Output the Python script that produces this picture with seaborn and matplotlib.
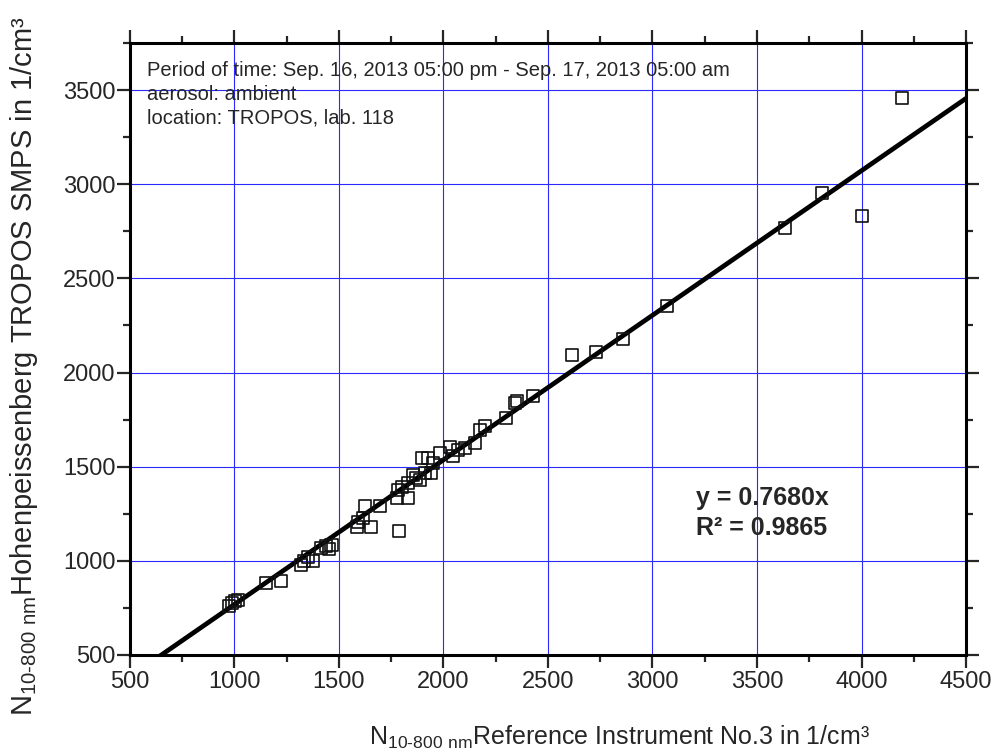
import numpy as np
import pandas as pd
import matplotlib
matplotlib.use("Agg")
import matplotlib.pyplot as plt
from matplotlib.ticker import MultipleLocator
import seaborn as sns

# reference instrument counts (x) vs Hohenpeissenberg SMPS counts (y)
ref_counts = [975, 990, 1005, 1020, 1150, 1225, 1318, 1335, 1353, 1377,
              1417, 1440, 1455, 1465, 1585, 1592, 1616, 1624, 1656, 1696,
              1790, 1776, 1784, 1800, 1832, 1832, 1856, 1870, 1887, 1911,
              1943, 1900, 1927, 1950, 1983, 2031, 2047, 2070, 2103, 2151,
              2175, 2199, 2299, 2342, 2353, 2427, 2613, 2730, 2857, 3071,
              3634, 3811, 4002, 4193]
smps_counts = [760, 775, 785, 790, 880, 893, 978, 1000, 1022, 1001,
               1067, 1080, 1065, 1084, 1181, 1208, 1226, 1291, 1178, 1291,
               1158, 1332, 1376, 1390, 1332, 1412, 1456, 1440, 1429, 1465,
               1465, 1548, 1548, 1520, 1571, 1606, 1557, 1590, 1598, 1625,
               1695, 1716, 1760, 1837, 1851, 1877, 2093, 2111, 2178, 2353,
               2768, 2953, 2831, 3458]

fit_slope = 0.7680
fit_r2 = 0.9865
fit_x = [500, 4500]

x_ticks = [500, 1000, 1500, 2000, 2500, 3000, 3500, 4000, 4500]
y_ticks = [500, 1000, 1500, 2000, 2500, 3000, 3500]

info_lines = ["Period of time: Sep. 16, 2013 05:00 pm - Sep. 17, 2013 05:00 am",
              "aerosol: ambient",
              "location: TROPOS, lab. 118"]

df = pd.DataFrame({"ref": ref_counts, "smps": smps_counts})
fit_df = pd.DataFrame({"x": fit_x, "y": [fit_slope * v for v in fit_x]})

sns.set_style("white")
plt.rcParams["font.family"] = ["Liberation Sans", "DejaVu Sans"]
plt.rcParams["mathtext.fontset"] = "custom"
plt.rcParams["mathtext.rm"] = "Liberation Sans"

fig = plt.figure(figsize=(9.98, 7.56), dpi=100)
ax = fig.add_axes([0.130, 0.1336, 0.838, 0.8095])

ax.grid(True, which="major", color="#2a2aff", linewidth=0.8)
ax.set_axisbelow(True)

sns.lineplot(data=fit_df, x="x", y="y", ax=ax, color="black", linewidth=3.4, zorder=2)
sns.scatterplot(data=df, x="ref", y="smps", ax=ax, marker="s", s=75,
                facecolor="none", edgecolor="#111111", linewidth=1.2, zorder=3)

ax.set_xlim(500, 4500)
ax.set_ylim(500, 3750)
ax.set_xticks(x_ticks)
ax.set_yticks(y_ticks)
ax.xaxis.set_minor_locator(MultipleLocator(250))
ax.yaxis.set_minor_locator(MultipleLocator(250))
ax.tick_params(which="major", direction="out", length=9.4, width=1.6,
               top=True, right=True, bottom=True, left=True, labelsize=17)
ax.tick_params(axis="y", which="major", pad=1)
ax.tick_params(axis="x", which="major", pad=2)
ax.tick_params(which="minor", direction="out", length=5, width=1.6,
               top=True, right=True, bottom=True, left=True)
for sp in ax.spines.values():
    sp.set_linewidth(2.2)
    sp.set_color("black")

ax.set_xlabel("")
ax.set_ylabel("")
fig.text(0.621, 0.0146, r"N$_{\mathregular{10\text{-}800\ nm}}$Reference Instrument No.3 in 1/cm³",
         ha="center", va="baseline", fontsize=18)
fig.text(0.008, 0.516, r"N$_{\mathregular{10\text{-}800\ nm}}$Hohenpeissenberg TROPOS SMPS in 1/cm³",
         ha="left", va="center", rotation=90, fontsize=21)

ax.text(0.021, 0.971, "\n".join(info_lines), transform=ax.transAxes,
        ha="left", va="top", fontsize=14.5, linespacing=1.33)
ax.text(0.677, 0.232, f"y = {fit_slope:.4f}x\nR² = {fit_r2:.4f}", transform=ax.transAxes,
        ha="left", va="center", fontsize=18, fontweight="bold", linespacing=1.3)

fig.savefig("out.png", dpi=100)
